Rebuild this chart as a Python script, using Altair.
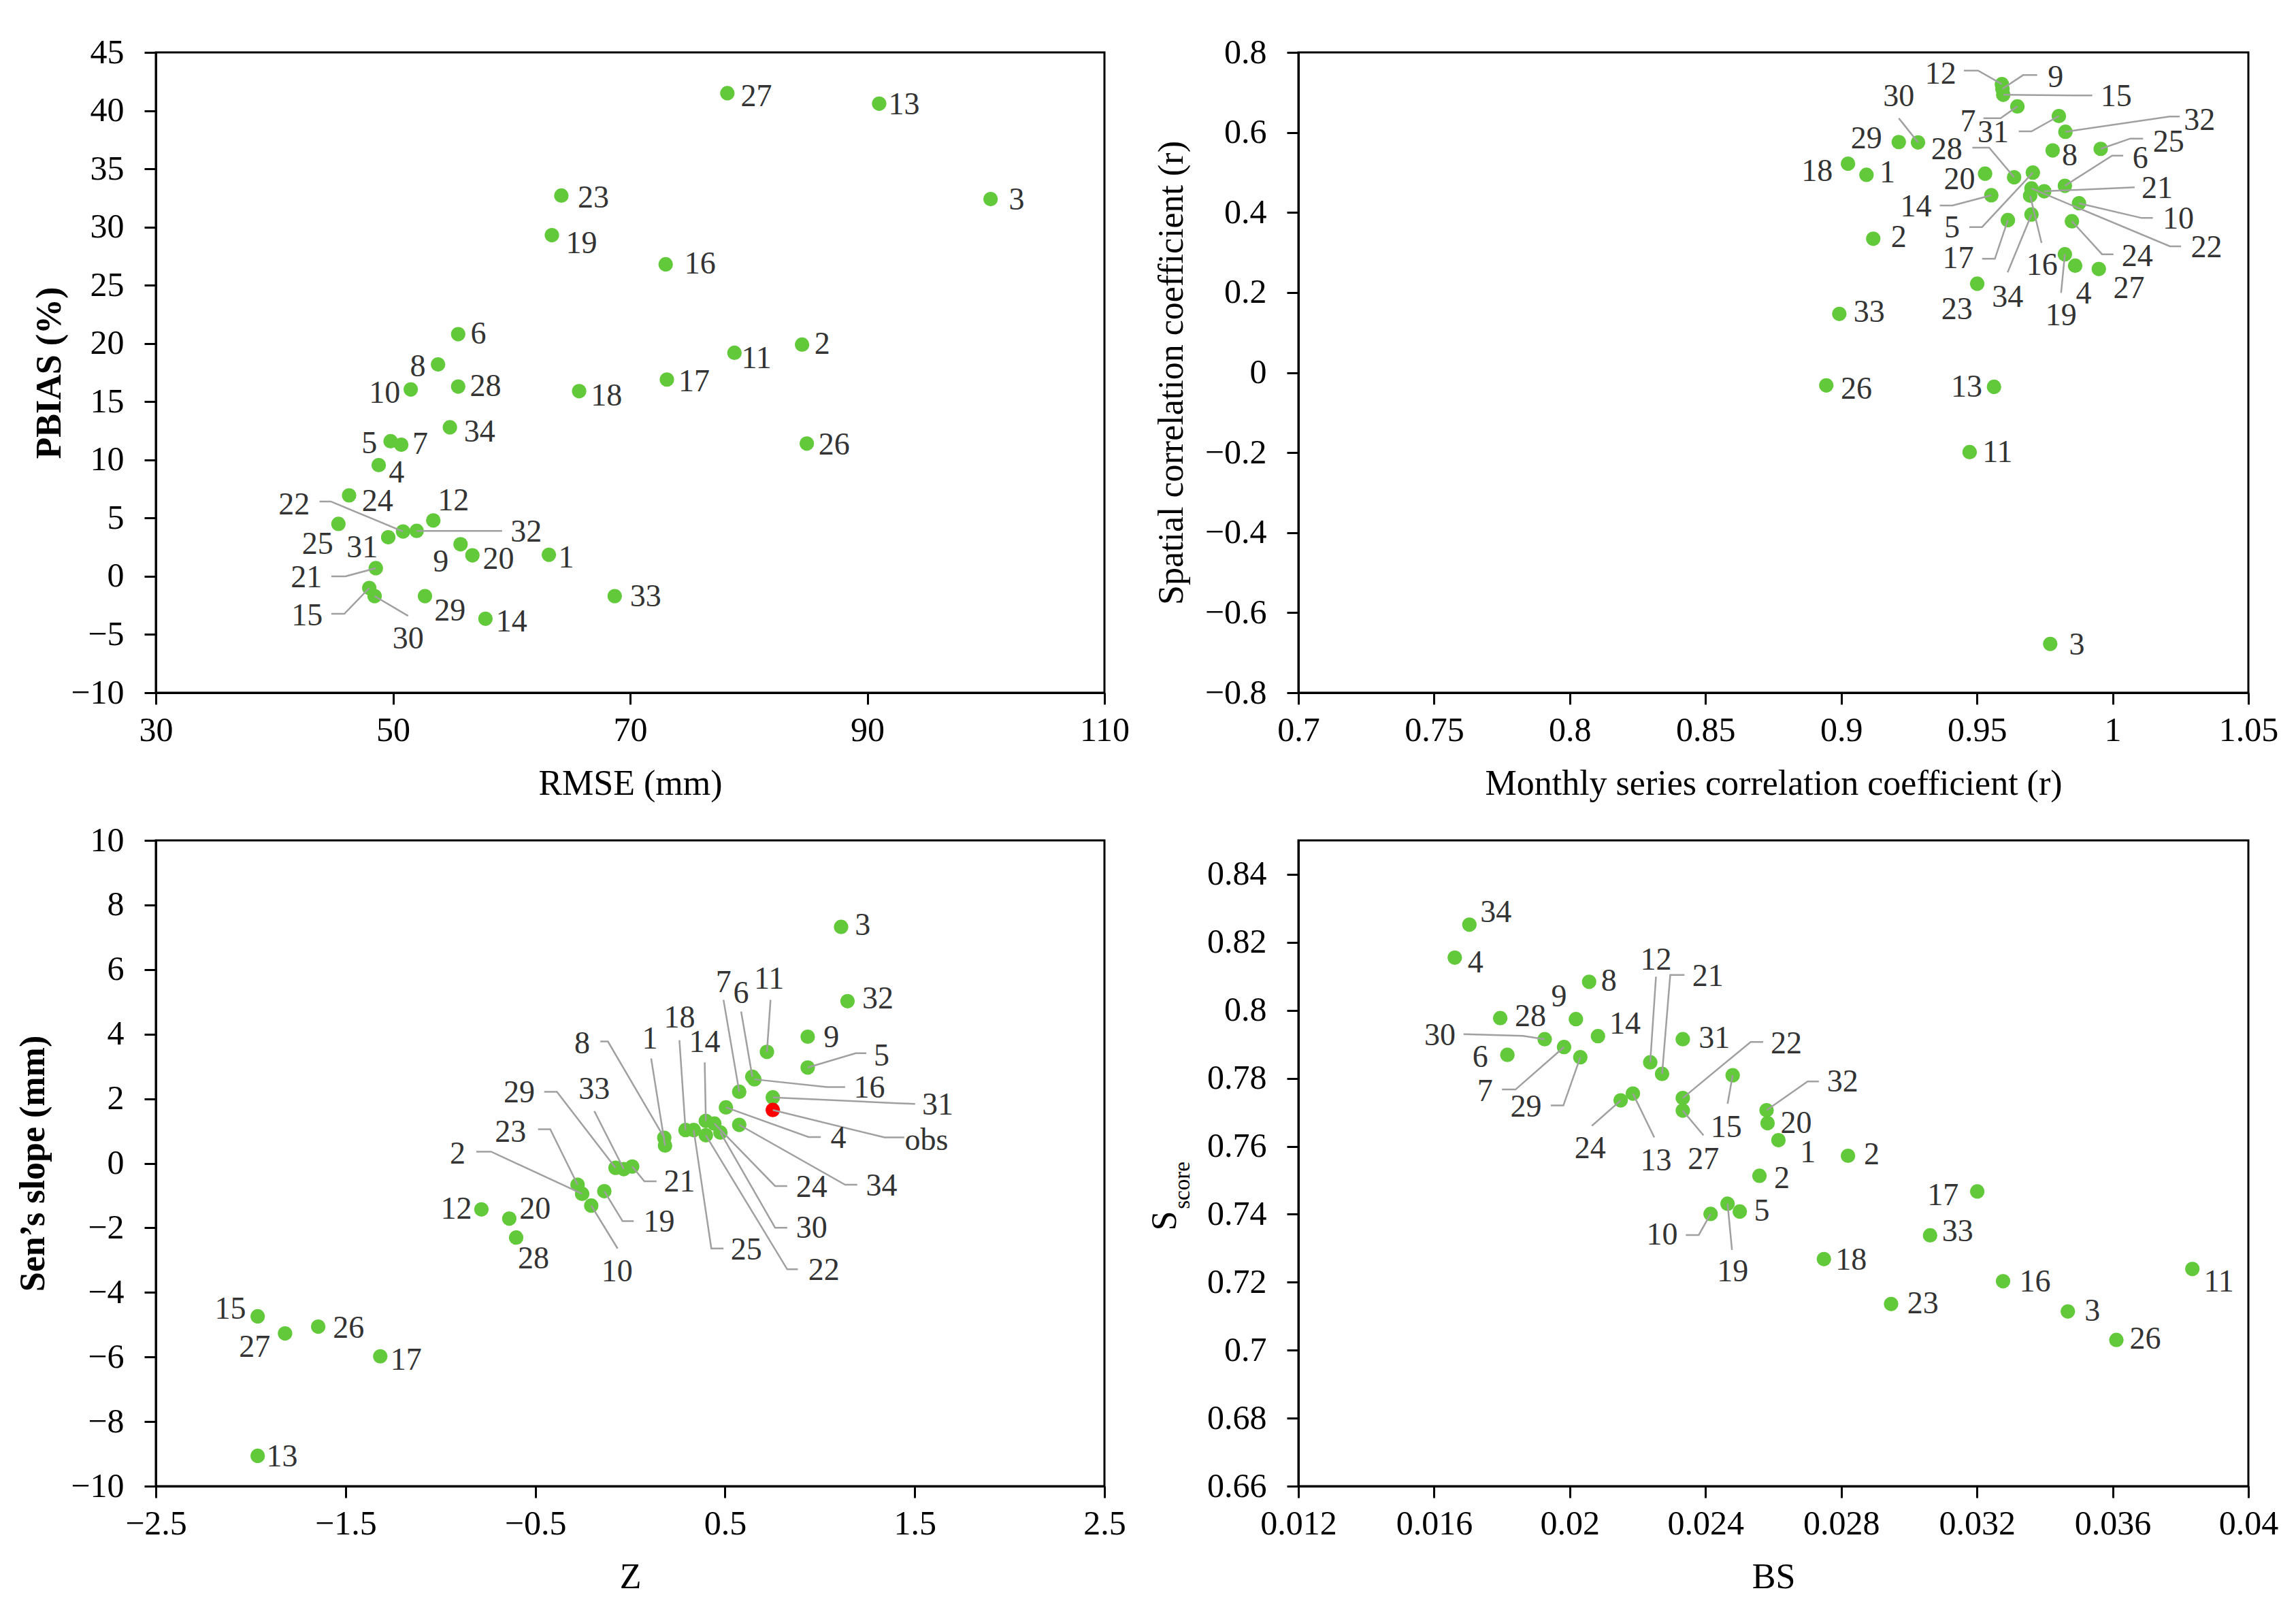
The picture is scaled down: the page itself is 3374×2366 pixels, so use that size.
import altair as alt
import pandas as pd

FONT = "'Liberation Serif', 'Times New Roman', 'DejaVu Serif', serif"
GREEN = "#62C93A"
RED = "#FF0000"
LEAD = "#A0A0A0"
LABEL_C = "#333333"

# ---------------- Panel 1 : RMSE vs PBIAS ----------------
P1_ID = [27, 13, 3, 23, 19, 16, 6, 2, 11, 8, 17, 10, 28, 18, 34, 26, 5, 7, 4, 24,
         12, 22, 25, 31, 32, 9, 20, 1, 21, 15, 30, 29, 33, 14]
P1_X = [78.2, 91.0, 100.4, 64.2, 63.4, 73.0, 55.5, 84.5, 78.8, 53.8, 73.1, 51.5, 55.5, 65.7,
        54.8, 84.9, 49.8, 50.7, 48.8, 46.3, 53.4, 50.85, 45.4, 49.6, 52.0, 55.7, 56.7, 63.15,
        48.55, 48.0, 48.45, 52.7, 68.7, 57.8]
P1_Y = [41.5, 40.6, 32.4, 32.7, 29.3, 26.8, 20.8, 19.9, 19.2, 18.2, 16.9, 16.05, 16.3, 15.9,
        12.8, 11.4, 11.6, 11.3, 9.55, 6.95, 4.8, 3.85, 4.5, 3.35, 3.9, 2.75, 1.8, 1.85,
        0.7, -1.0, -1.7, -1.7, -1.7, -3.65]
P1_LX = [80.65, 93.1, 102.6, 66.9, 65.9, 75.9, 57.2, 86.2, 80.65, 52.1, 75.4, 49.3, 57.8, 68.0,
         57.3, 87.2, 48.0, 52.3, 50.3, 48.7, 55.1, 41.67, 43.64, 47.4, 61.24, 54.03, 58.9, 64.6,
         42.7, 42.76, 51.28, 54.8, 71.3, 60.0]
P1_LY = [41.2, 40.5, 32.3, 32.5, 28.6, 26.8, 20.8, 19.9, 18.7, 18.0, 16.7, 15.7, 16.3, 15.5,
         12.4, 11.3, 11.4, 11.35, 8.9, 6.43, 6.5, 6.13, 2.73, 2.43, 3.8, 1.23, 1.46, 1.56,
         -0.1, -3.37, -5.4, -3.0, -1.75, -3.9]
P1_LEAD_ID = [22, 32, 21, 15, 30]
P1_LEAD_EX = [43.8, 59.2, 44.8, 44.8, 51.28]
P1_LEAD_EY = [6.43, 3.9, 0.0, -3.22, -3.4]
P1_LEAD_BX = [44.75, 59.2, 46.0, 45.9, 51.28]
P1_LEAD_BY = [6.43, 3.9, 0.0, -3.22, -3.4]
P1_XTICKS = [30, 50, 70, 90, 110]
P1_YTICKS = [-10, -5, 0, 5, 10, 15, 20, 25, 30, 35, 40, 45]

# ---------------- Panel 2 : monthly r vs spatial r ----------------
P2_ID = [12, 9, 15, 7, 31, 32, 25, 8, 29, 30, 18, 1, 20, 28, 5, 6, 21, 22, 16, 14, 10, 17, 34,
         24, 19, 4, 27, 23, 2, 33, 26, 13, 11, 3]
P2_X = [0.9592, 0.9594, 0.9597, 0.9649, 0.9802, 0.9826, 0.9956, 0.9779, 0.9212, 0.9283, 0.9025,
        0.9093, 0.953, 0.9637, 0.9706, 0.9824, 0.9748, 0.9701, 0.9696, 0.9553, 0.9876, 0.9614,
        0.9701, 0.985, 0.9824, 0.9862, 0.9949, 0.9501, 0.9118, 0.8993, 0.8945, 0.9563, 0.9473, 0.977]
P2_Y = [0.7207, 0.709, 0.694, 0.665, 0.641, 0.6016, 0.559, 0.555, 0.576, 0.575, 0.522, 0.494,
        0.497, 0.488, 0.4996, 0.4667, 0.453, 0.460, 0.442, 0.443, 0.423, 0.381, 0.395, 0.378,
        0.2955, 0.267, 0.2587, 0.222, 0.3345, 0.1465, -0.032, -0.0355, -0.1988, -0.678]
P2_LX = [0.9366, 0.979, 1.0013, 0.9467, 0.956, 1.032, 1.0206, 0.9842, 0.9093, 0.9212, 0.8911,
         0.917, 0.9436, 0.9389, 0.9408, 1.0102, 1.0164, 1.0346, 0.974, 0.9275, 1.0242, 0.9431,
         0.9613, 1.0091, 0.981, 0.9893, 1.006, 0.9426, 0.9212, 0.9103, 0.9056, 0.9462, 0.9576, 0.9868]
P2_LY = [0.746, 0.7377, 0.6895, 0.6271, 0.5988, 0.63, 0.5761, 0.5421, 0.5846, 0.6895, 0.5024,
         0.4996, 0.4826, 0.5563, 0.3607, 0.5340, 0.4600, 0.3126, 0.2672, 0.4146, 0.3834, 0.2842,
         0.1879, 0.2899, 0.1425, 0.1964, 0.2105, 0.1567, 0.338, 0.151, -0.0417, -0.036, -0.2004, -0.6815]
P2_LEAD_ID = [12, 9, 15, 30, 7, 31, 32, 28, 25, 6, 21, 14, 10, 5, 22, 17, 24, 16, 34, 19]
P2_LEAD_EX = [0.9452, 0.9722, 0.9925, 0.9212, 0.9524, 0.9654, 1.0247, 0.9483, 1.0112, 1.0039,
              1.0081, 0.9363, 1.0148, 0.9472, 1.0252, 0.9519, 1.0003, 0.9738, 0.9613, 0.981]
P2_LEAD_EY = [0.7547, 0.7433, 0.6923, 0.6356, 0.6356, 0.6028, 0.6396, 0.5619, 0.5846, 0.5420,
              0.4630, 0.4174, 0.3862, 0.3636, 0.3154, 0.2842, 0.2955, 0.3239, 0.2502, 0.1992]
P2_LEAD_BX = [0.9504, 0.967, 0.9925, 0.9212, 0.9587, 0.9701, 1.021, 0.9545, 1.0065, 0.9998,
              1.0081, 0.941, 1.0107, 0.9519, 1.0211, 0.9566, 0.9961, 0.9738, 0.9613, 0.981]
P2_LEAD_BY = P2_LEAD_EY
P2_XTICKS = [0.7, 0.75, 0.8, 0.85, 0.9, 0.95, 1.0, 1.05]
P2_YTICKS = [-0.8, -0.6, -0.4, -0.2, 0, 0.2, 0.4, 0.6, 0.8]

# ---------------- Panel 3 : Z vs Sen's slope ----------------
P3_ID = ["3", "32", "9", "11", "5", "6", "16", "7", "31", "4", "34", "18", "25", "14", "24",
         "22", "30", "8", "1", "29", "33", "21", "23", "2", "10", "19", "12", "20", "28", "15",
         "26", "27", "17", "13", "obs"]
P3_X = [1.112, 1.146, 0.936, 0.721, 0.936, 0.644, 0.655, 0.575, 0.752, 0.505, 0.575, 0.292,
        0.335, 0.399, 0.444, 0.399, 0.476, 0.18, 0.184, -0.077, -0.0335, 0.011, -0.277, -0.253,
        -0.205, -0.136, -0.784, -0.637, -0.6007, -1.963, -1.644, -1.819, -1.317, -1.963, 0.752]
P3_Y = [7.32, 5.02, 3.92, 3.45, 2.965, 2.68, 2.60, 2.215, 2.04, 1.73, 1.19, 1.03, 1.03, 1.31,
        1.23, 0.868, 0.949, 0.79, 0.55, -0.14, -0.18, -0.10, -0.664, -0.946, -1.31, -0.866,
        -1.43, -1.713, -2.3, -4.74, -5.06, -5.27, -5.98, -9.06, 1.65]
P3_LX = [1.226, 1.306, 1.061, 0.732, 1.325, 0.585, 1.261, 0.492, 1.621, 1.098, 1.325, 0.2597,
         0.612, 0.393, 0.9568, 1.021, 0.957, -0.253, 0.104, -0.5847, -0.189, 0.2597, -0.63, -0.909,
         -0.0687, 0.152, -0.916, -0.5014, -0.5094, -2.107, -1.484, -1.979, -1.181, -1.835, 1.562]
P3_LY = [7.36, 5.1, 3.892, 5.707, 3.328, 5.263, 2.32, 5.586, 1.80, 0.763, -0.705, 4.497,
         -2.68, 3.731, -0.745, -3.325, -2.011, 3.69, 3.852, 2.183, 2.28, -0.583, 0.949, 0.279,
         -3.366, -1.833, -1.43, -1.43, -2.96, -4.53, -5.11, -5.70, -6.10, -9.09, 0.70]
P3_LEAD_ID = ["11", "5", "6", "16", "7", "31", "obs", "4", "34", "18", "25", "14", "24", "22",
              "30", "8", "1", "29", "33", "21", "23", "2", "10", "19"]
P3_LEAD_EX = [0.74, 1.245, 0.585, 1.133, 0.492, 1.502, 1.445, 1.005, 1.197, 0.2597, 0.4921,
              0.393, 0.828, 0.884, 0.828, -0.157, 0.1107, -0.453, -0.189, 0.139, -0.4853, -0.811,
              -0.066, 0.019]
P3_LEAD_EY = [5.062, 3.41, 4.699, 2.36, 5.06, 1.84, 0.80, 0.812, -0.664, 3.812, -2.64, 3.126,
              -0.705, -3.285, -1.995, 3.77, 3.247, 2.215, 1.618, -0.559, 1.054, 0.359, -2.64, -1.793]
P3_LEAD_BX = [0.74, 1.189, 0.585, 1.037, 0.492, 1.405, 1.341, 0.9407, 1.133, 0.2597, 0.428,
              0.393, 0.764, 0.828, 0.764, -0.117, 0.1107, -0.386, -0.189, 0.075, -0.4212, -0.733,
              -0.066, -0.04]
P3_LEAD_BY = [5.062, 3.41, 4.699, 2.36, 5.06, 1.86, 0.80, 0.812, -0.664, 3.812, -2.64, 3.126,
              -0.705, -3.285, -1.995, 3.77, 3.247, 2.215, 1.618, -0.559, 1.054, 0.359, -2.64, -1.793]
P3_XTICKS = [-2.5, -1.5, -0.5, 0.5, 1.5, 2.5]
P3_YTICKS = [-10, -8, -6, -4, -2, 0, 2, 4, 6, 8, 10]

# ---------------- Panel 4 : BS vs S_score ----------------
P4_ID = [34, 4, 8, 28, 9, 14, 30, 7, 6, 29, 31, 12, 21, 15, 13, 24, 22, 27, 32, 20, 1, 2, 25,
         19, 5, 10, 18, 17, 33, 16, 11, 23, 3, 26]
P4_TXT = ["34", "4", "8", "28", "9", "14", "30", "7", "6", "29", "31", "12", "21", "15", "13",
          "24", "22", "27", "32", "20", "1", "2", "2", "19", "5", "10", "18", "17", "33", "16",
          "11", "23", "3", "26"]
P4_X = [0.01704, 0.01661, 0.02057, 0.01795, 0.02018, 0.02083, 0.01926, 0.01983, 0.01816, 0.02031,
        0.02333, 0.02237, 0.02272, 0.0248, 0.02186, 0.0215, 0.02333, 0.02333, 0.0258, 0.02583,
        0.02615, 0.0282, 0.02559, 0.02465, 0.02501, 0.02415, 0.02749, 0.03201, 0.03062, 0.03277,
        0.03835, 0.02947, 0.03468, 0.03611]
P4_Y = [0.8252, 0.8155, 0.8084, 0.7977, 0.7974, 0.7924, 0.7915, 0.7892, 0.7869, 0.7862, 0.7915,
        0.7847, 0.7813, 0.7809, 0.7755, 0.7735, 0.7742, 0.7705, 0.7706, 0.7668, 0.7618, 0.7572,
        0.7513, 0.7431, 0.7408, 0.7401, 0.7268, 0.7467, 0.7338, 0.7203, 0.7239, 0.7136, 0.7114, 0.703]
P4_LX = [0.01782, 0.01722, 0.02115, 0.01884, 0.01968, 0.02163, 0.01617, 0.0175, 0.01736, 0.01871,
         0.02426, 0.02254, 0.02407, 0.02461, 0.02254, 0.0206, 0.02638, 0.02394, 0.02804, 0.02667,
         0.02702, 0.0289, 0.02625, 0.0248, 0.02566, 0.02272, 0.02829, 0.031, 0.03143, 0.03371,
         0.03913, 0.03041, 0.0354, 0.03696]
P4_LY = [0.8288, 0.8139, 0.8086, 0.7982, 0.8039, 0.7959, 0.7925, 0.7762, 0.7862, 0.7715, 0.7917,
         0.8147, 0.8099, 0.7655, 0.7558, 0.7593, 0.7902, 0.7562, 0.7789, 0.7668, 0.7582, 0.7575,
         0.7505, 0.723, 0.7408, 0.7338, 0.7265, 0.7455, 0.7348, 0.72, 0.72, 0.7136, 0.7114, 0.7033]
P4_LEAD_ID = [30, 7, 29, 12, 21, 15, 13, 24, 22, 27, 32, 19, 10]
P4_LEAD_EX = [0.01687, 0.018, 0.01944, 0.02254, 0.02338, 0.02465, 0.02249, 0.02065, 0.0257,
              0.02394, 0.02734, 0.02478, 0.02342]
P4_LEAD_EY = [0.793, 0.7767, 0.772, 0.8099, 0.8104, 0.7725, 0.7626, 0.766, 0.7907, 0.7632,
              0.7791, 0.7295, 0.7339]
P4_LEAD_BX = [0.01861, 0.0184, 0.01981, 0.02254, 0.02296, 0.02465, 0.02249, 0.02065, 0.02533,
              0.02394, 0.02701, 0.02478, 0.0238]
P4_LEAD_BY = [0.7925, 0.7767, 0.772, 0.8099, 0.8104, 0.7725, 0.7626, 0.766, 0.7907, 0.7632,
              0.7791, 0.7295, 0.7339]
P4_XTICKS = [0.012, 0.016, 0.02, 0.024, 0.028, 0.032, 0.036, 0.04]
P4_YTICKS = [0.66, 0.68, 0.7, 0.72, 0.74, 0.76, 0.78, 0.8, 0.82, 0.84]

LABEL_EXPR = "format(datum.value, '~r')"


def panel(ids, xs, ys, lxs, lys, texts, lead_ids, ex, ey, bx, by,
          xdom, ydom, xticks, yticks, xtitle, ytitle, w, h,
          ytitle_weight="normal", ytp=10, colors=None, extra=None):
    if colors is None:
        colors = [GREEN] * len(ids)
    pts = pd.DataFrame({"id": [str(i) for i in ids], "x": xs, "y": ys, "c": colors})
    lbl = pd.DataFrame({"t": texts, "x": lxs, "y": lys})
    pos = {str(k): (xx, yy) for k, xx, yy in zip(ids, xs, ys)}
    rows = []
    for i, k in enumerate(lead_ids):
        px, py = pos[str(k)]
        rows.append({"k": str(k), "o": 0, "x": px, "y": py})
        rows.append({"k": str(k), "o": 1, "x": bx[i], "y": by[i]})
        rows.append({"k": str(k), "o": 2, "x": ex[i], "y": ey[i]})
    ld = pd.DataFrame(rows)

    xsc = alt.Scale(domain=xdom, nice=False, zero=False)
    ysc = alt.Scale(domain=ydom, nice=False, zero=False)
    xax = alt.Axis(values=xticks, labelExpr=LABEL_EXPR, title=xtitle, labelOverlap=False,
                   labelFlush=False)
    yax = alt.Axis(values=yticks, labelExpr=LABEL_EXPR, title=ytitle, labelOverlap=False,
                   labelFlush=False, titleFontWeight=ytitle_weight, titlePadding=ytp)

    points = alt.Chart(pts).mark_circle(size=450, opacity=1).encode(
        x=alt.X("x:Q", scale=xsc, axis=xax),
        y=alt.Y("y:Q", scale=ysc, axis=yax),
        color=alt.Color("c:N", scale=None),
    )
    lines = alt.Chart(ld).mark_line(color=LEAD, strokeWidth=2.5).encode(
        x=alt.X("x:Q", scale=xsc),
        y=alt.Y("y:Q", scale=ysc),
        detail="k:N",
        order="o:Q",
    )
    labels = alt.Chart(lbl).mark_text(font=FONT, fontSize=46, color=LABEL_C,
                                      align="center", baseline="middle").encode(
        x=alt.X("x:Q", scale=xsc),
        y=alt.Y("y:Q", scale=ysc),
        text="t:N",
    )
    layers = [points, lines, labels]
    if extra:
        layers += extra
    return alt.layer(*layers).properties(width=w, height=h)


p1 = panel(P1_ID, P1_X, P1_Y, P1_LX, P1_LY, [str(i) for i in P1_ID],
           P1_LEAD_ID, P1_LEAD_EX, P1_LEAD_EY, P1_LEAD_BX, P1_LEAD_BY,
           [30, 110], [-10, 45], P1_XTICKS, P1_YTICKS, "RMSE (mm)", "PBIAS (%)",
           1394, 941, ytitle_weight="bold", ytp=4)

p2 = panel(P2_ID, P2_X, P2_Y, P2_LX, P2_LY, [str(i) for i in P2_ID],
           P2_LEAD_ID, P2_LEAD_EX, P2_LEAD_EY, P2_LEAD_BX, P2_LEAD_BY,
           [0.7, 1.05], [-0.8, 0.8], P2_XTICKS, P2_YTICKS,
           "Monthly series correlation coefficient (r)", "Spatial correlation coefficient (r)",
           1396, 941, ytp=22)

p3_colors = [RED if i == "obs" else GREEN for i in P3_ID]
p3 = panel(P3_ID, P3_X, P3_Y, P3_LX, P3_LY, P3_ID,
           P3_LEAD_ID, P3_LEAD_EX, P3_LEAD_EY, P3_LEAD_BX, P3_LEAD_BY,
           [-2.5, 2.5], [-10, 10], P3_XTICKS, P3_YTICKS, "Z", "Sen\u2019s slope (mm)",
           1394, 949, ytitle_weight="bold", ytp=28, colors=p3_colors)

s_main = alt.Chart(pd.DataFrame({"t": ["S"]})).mark_text(
    font=FONT, fontSize=52, color="black", angle=270, align="center", baseline="middle"
).encode(x=alt.value(-196), y=alt.value(559), text="t:N")
s_sub = alt.Chart(pd.DataFrame({"t": ["score"]})).mark_text(
    font=FONT, fontSize=33, color="black", angle=270, align="center", baseline="middle"
).encode(x=alt.value(-170), y=alt.value(507), text="t:N")

p4 = panel(P4_ID, P4_X, P4_Y, P4_LX, P4_LY, P4_TXT,
           P4_LEAD_ID, P4_LEAD_EX, P4_LEAD_EY, P4_LEAD_BX, P4_LEAD_BY,
           [0.012, 0.04], [0.66, 0.85], P4_XTICKS, P4_YTICKS, "BS", "",
           1396, 949, extra=[s_main, s_sub])

chart = alt.concat(
    p1, p2, p3, p4, columns=2, spacing={"row": 217, "column": 285}, bounds="flush"
).properties(
    padding={"left": 13, "top": 42, "right": 0, "bottom": 0}
).configure_view(
    stroke="black", strokeWidth=3
).configure_axis(
    domainColor="black", domainWidth=3, tickColor="black", tickWidth=3, tickSize=17,
    labelFont=FONT, labelFontSize=50, labelColor="black",
    titleFont=FONT, titleFontSize=52, titleColor="black", titleFontWeight="normal",
    grid=False,
).configure_axisX(
    labelPadding=13, titlePadding=28
).configure_axisY(
    labelPadding=30
)

chart.save("out.html", embed_options={"renderer": "svg", "actions": False})
